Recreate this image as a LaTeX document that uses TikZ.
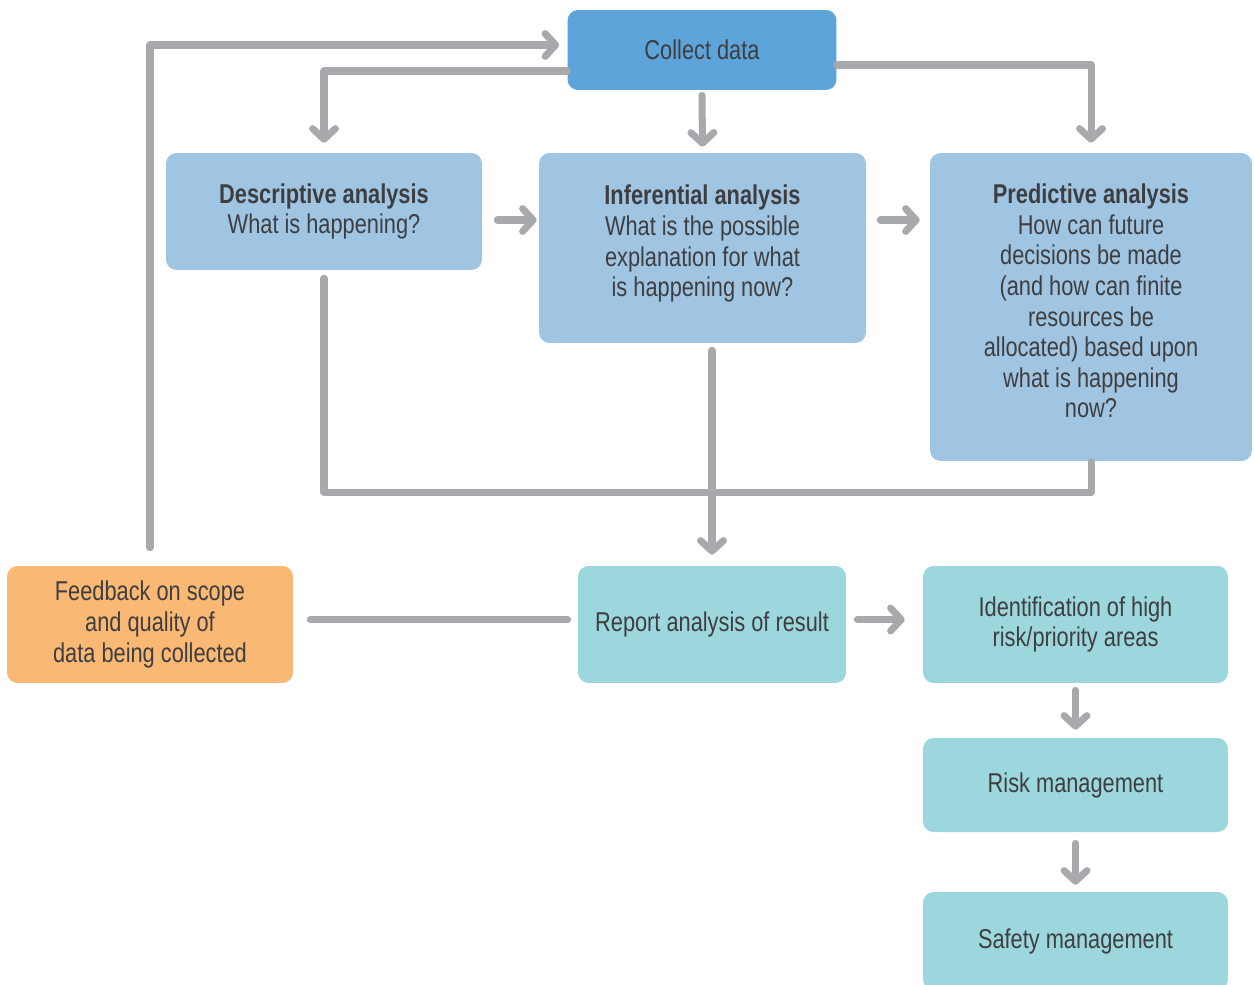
\documentclass[tikz,border=0pt]{standalone}
\usepackage{fontspec}
\setmainfont[FakeStretch=0.8]{Liberation Sans}
\usetikzlibrary{arrows.meta,positioning}
\definecolor{linegray}{RGB}{168,169,172}
\definecolor{txtgray}{RGB}{62,62,64}
\definecolor{collectblue}{RGB}{92,164,218}
\definecolor{analysisblue}{RGB}{160,197,226}
\definecolor{resultteal}{RGB}{156,215,222}
\definecolor{feedorange}{RGB}{249,185,117}

\begin{document}
\begin{tikzpicture}[x=0.02cm, y=-0.02cm,
  box/.style={rounded corners=6pt, align=center, text=txtgray, inner sep=0pt,
    font=\fontsize{15.5}{17.4}\selectfont},
  link/.style={draw=linegray, line width=4pt, line cap=round, line join=round},
  arr/.style={link, -{Straight Barb[length=6pt,width=13pt,round]}}]
\useasboundingbox (0,0) rectangle (1254,984);

\node[box, fill=collectblue, minimum width=5.38cm, minimum height=1.6cm] (collect) at (702,50) {Collect data};
\node[box, fill=analysisblue, minimum width=6.32cm, minimum height=2.34cm] (desc) at (324,211.5)
  {\textbf{Descriptive analysis}\\What is happening?};
\node[box, fill=analysisblue, minimum width=6.54cm, minimum height=3.8cm, text depth=8pt] (infer) at (702.5,248)
  {\textbf{Inferential analysis}\\What is the possible\\explanation for what\\is happening now?};
\node[box, fill=analysisblue, minimum width=6.44cm, minimum height=6.16cm, text depth=7pt] (pred) at (1091,307)
  {\textbf{Predictive analysis}\\How can future\\decisions be made\\(and how can finite\\resources be\\allocated) based upon\\what is happening\\now?};
\node[box, fill=feedorange, minimum width=5.72cm, minimum height=2.34cm] (feed) at (150,624.5)
  {Feedback on scope\\and quality of\\data being collected};
\node[box, fill=resultteal, minimum width=5.36cm, minimum height=2.34cm] (report) at (712,624.5)
  {Report analysis of result};
\node[box, fill=resultteal, minimum width=6.1cm, minimum height=2.34cm] (ident) at (1075.5,624.5)
  {Identification of high\\risk/priority areas};
\node[box, fill=resultteal, minimum width=6.1cm, minimum height=1.88cm] (risk) at (1075.5,785)
  {Risk management};
\node[box, fill=resultteal, minimum width=6.1cm, minimum height=1.96cm] (safety) at (1075.5,941)
  {Safety management};

\draw[arr] ([yshift=0.36cm]feed.north) |- ([xshift=-0.16cm,yshift=0.1cm]collect.west);
\draw[arr] ([yshift=-0.42cm]collect.west) -| ([yshift=0.2cm]desc.north);
\draw[arr] ([yshift=-0.1cm]collect.south) -- ([yshift=0.12cm]infer.north);
\draw[arr] ([yshift=-0.3cm]collect.east) -| ([yshift=0.2cm]pred.north);
\draw[arr] ([xshift=0.3cm,yshift=-0.17cm]desc.east) -- ([xshift=-0.04cm,yshift=-0.17cm]infer.west |- desc.east);
\draw[arr] ([xshift=0.28cm,yshift=-0.17cm]infer.east |- desc.east) -- ([xshift=-0.2cm,yshift=-0.17cm]pred.west |- desc.east);
\draw[link] ([yshift=-0.16cm]desc.south) |- ([yshift=-0.62cm]pred.south) -- (pred.south);
\draw[arr] ([yshift=-0.14cm]report.north |- infer.south) -- ([yshift=0.22cm]report.north);
\draw[link] ([xshift=0.34cm,yshift=0.1cm]feed.east) -- ([xshift=-0.2cm,yshift=0.1cm]report.west);
\draw[arr] ([xshift=0.22cm,yshift=0.1cm]report.east) -- ([xshift=-0.36cm,yshift=0.1cm]ident.west);
\draw[arr] ([yshift=-0.14cm]ident.south) -- ([yshift=0.16cm]risk.north);
\draw[arr] ([yshift=-0.22cm]risk.south) -- ([yshift=0.14cm]safety.north);
\end{tikzpicture}
\end{document}
